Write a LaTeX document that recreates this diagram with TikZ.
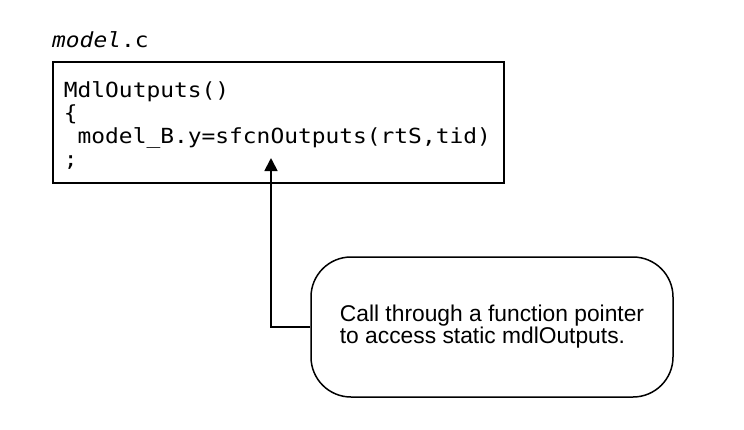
\documentclass[tikz,border=0pt]{standalone}
\usepackage{fontspec}
\setmainfont{Liberation Sans}
\newfontfamily\codefont[FakeStretch=1.1]{DejaVu Sans Mono}
\usetikzlibrary{arrows.meta, positioning}

\begin{document}
\begin{tikzpicture}[x=1pt,y=-1pt,
    codebox/.style={draw,line width=1.8pt,minimum width=451pt,minimum height=121pt,inner xsep=11pt,text width=429pt,align=left,font=\codefont\fontsize{20.8}{23}\selectfont},
    note/.style={draw,line width=1.5pt,rounded corners=40pt,minimum width=362pt,minimum height=140pt,align=left,font=\fontsize{22.8}{22}\selectfont},
    link/.style={line width=1.8pt,-{Triangle[length=13pt,width=13pt]}}
  ]
    \useasboundingbox (0,0) rectangle (744,429);
    \node[codebox, anchor=north west] (code) at (52,61) {\rule{0pt}{22pt}MdlOutputs()\\\{\\\hphantom{m}model\_B.y=sfcnOutputs(rtS,tid)\\;};
    \node[anchor=base west, inner sep=0pt, font=\codefont\fontsize{20.8}{23}\selectfont] (title) at ([yshift=14pt]code.north west) {\textit{model}.c};

    \node[note] (call) at (492,327) {Call through a function pointer\\to access static mdlOutputs.};
    \coordinate (tip) at (271,158);
    \draw[link] (call.west) -| (tip);
  \end{tikzpicture}
\end{document}
